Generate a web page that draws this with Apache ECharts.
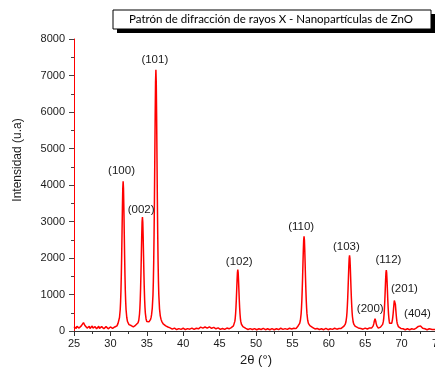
<!DOCTYPE html>
<html><head><meta charset="utf-8">
<script src="https://cdn.jsdelivr.net/npm/echarts@6/dist/echarts.min.js"></script>
<style>html,body{margin:0;padding:0;background:#fff}#c{width:435px;height:369px}</style>
</head><body><div id="c"></div>
<script>
const titleText = 'Patrón de difracción de rayos X - Nanopartículas de ZnO';
const xTitle = '2θ (°)';
const yTitle = 'Intensidad (u.a)';

// [2θ (°), intensidad (u.a)]
const scanBase25to31 = [[25.0,120],[25.1,80],[25.2,140],[25.3,70],[25.4,130],[25.5,90],[25.6,150],[25.7,80],[25.8,120],[25.9,100],[26.0,140],[26.1,110],[26.2,190],[26.3,230],[26.4,200],[26.5,150],[26.6,110],[26.7,140],[26.8,80],[26.9,120],[27.0,90],[27.1,130],[27.2,70],[27.3,110],[27.4,90],[27.5,140],[27.6,80],[27.7,110],[27.8,70],[27.9,120],[28.0,90],[28.1,60],[28.2,110],[28.3,80],[28.4,130],[28.5,70],[28.6,100],[28.7,80],[28.8,120],[28.9,70],[29.0,100],[29.1,60],[29.2,110],[29.3,80],[29.4,120],[29.5,70],[29.6,90],[29.7,60],[29.8,100],[29.9,80],[30.0,110],[30.1,60],[30.2,90],[30.3,70],[30.4,100],[30.5,80],[30.6,110],[30.7,100]];
const scanPeaks100_002_101 = [[30.8,115],[30.9,140],[30.95,165],[31.05,210],[31.15,260],[31.25,370],[31.35,590],[31.4,800],[31.45,1105],[31.5,1535],[31.55,2080],[31.6,2720],[31.65,3370],[31.7,3900],[31.75,4100],[31.8,3900],[31.85,3370],[31.9,2720],[31.95,2080],[32.0,1535],[32.05,1105],[32.1,800],[32.15,590],[32.25,370],[32.35,260],[32.45,210],[32.55,175],[32.65,165],[32.75,140],[32.85,150],[32.95,125],[33.05,135],[33.15,115],[33.25,140],[33.35,130],[33.45,155],[33.55,150],[33.6,165],[33.7,190],[33.8,225],[33.9,295],[34.0,465],[34.05,625],[34.1,855],[34.15,1180],[34.2,1595],[34.25,2080],[34.3,2575],[34.35,2975],[34.4,3120],[34.45,2980],[34.5,2580],[34.55,2090],[34.6,1605],[34.65,1195],[34.7,870],[34.75,645],[34.8,490],[34.9,330],[35.0,260],[35.1,240],[35.2,235],[35.3,250],[35.4,275],[35.5,310],[35.6,380],[35.65,440],[35.75,620],[35.85,990],[35.9,1360],[35.95,1900],[36.0,2650],[36.05,3610],[36.1,4740],[36.15,5880],[36.2,6805],[36.25,7160],[36.3,6805],[36.35,5880],[36.4,4740],[36.45,3610],[36.5,2650],[36.55,1900],[36.6,1360],[36.65,990],[36.75,600],[36.85,415],[36.95,325],[37.05,265],[37.15,230],[37.25,195],[37.35,175],[37.45,155],[37.6,140],[37.75,120],[37.9,110],[38.05,95],[38.2,85]];
const scanBase38to47 = [[38.3,60],[38.4,85],[38.5,50],[38.6,75],[38.7,40],[38.8,80],[38.9,45],[39.0,70],[39.1,40],[39.2,75],[39.3,45],[39.4,65],[39.5,35],[39.6,70],[39.7,45],[39.8,80],[39.9,40],[40.0,75],[40.1,45],[40.2,70],[40.3,40],[40.4,75],[40.5,45],[40.6,65],[40.7,40],[40.8,75],[40.9,50],[41.0,70],[41.1,40],[41.2,80],[41.3,50],[41.4,70],[41.5,45],[41.6,80],[41.7,55],[41.8,75],[41.9,60],[42.0,90],[42.1,60],[42.2,95],[42.3,70],[42.4,105],[42.5,75],[42.6,110],[42.7,80],[42.8,115],[42.9,80],[43.0,110],[43.1,85],[43.2,120],[43.3,80],[43.4,110],[43.5,85],[43.6,115],[43.7,80],[43.8,105],[43.9,75],[44.0,110],[44.1,70],[44.2,100],[44.3,75],[44.4,105],[44.5,60],[44.6,90],[44.7,55],[44.8,85],[44.9,50],[45.0,75],[45.1,45],[45.2,80],[45.3,45],[45.4,70],[45.5,50],[45.6,75],[45.7,45],[45.8,70],[45.9,55],[46.0,80],[46.1,55],[46.2,75],[46.3,60],[46.4,85],[46.5,70],[46.6,95]];
const scanPeak102 = [[46.7,107],[46.8,120],[46.9,140],[47.0,185],[47.1,270],[47.15,355],[47.2,480],[47.25,650],[47.3,870],[47.35,1130],[47.4,1390],[47.45,1600],[47.5,1680],[47.55,1600],[47.6,1390],[47.65,1130],[47.7,870],[47.75,650],[47.8,480],[47.85,355],[47.9,270],[48.0,185],[48.1,140],[48.2,120],[48.3,107],[48.45,90]];
const scanBase48to56 = [[48.6,70],[48.7,45],[48.8,65],[48.9,40],[49.0,75],[49.1,40],[49.2,65],[49.3,35],[49.4,70],[49.5,40],[49.6,60],[49.7,35],[49.8,65],[49.9,40],[50.0,60],[50.1,35],[50.2,70],[50.3,40],[50.4,60],[50.5,35],[50.6,65],[50.7,40],[50.8,60],[50.9,35],[51.0,70],[51.1,40],[51.2,60],[51.3,35],[51.4,65],[51.5,40],[51.6,60],[51.7,40],[51.8,70],[51.9,35],[52.0,60],[52.1,40],[52.2,65],[52.3,40],[52.4,60],[52.5,35],[52.6,70],[52.7,40],[52.8,60],[52.9,40],[53.0,65],[53.1,40],[53.2,60],[53.3,45],[53.4,75],[53.5,45],[53.6,65],[53.7,45],[53.8,70],[53.9,40],[54.0,65],[54.1,45],[54.2,75],[54.3,45],[54.4,65],[54.5,50],[54.6,75],[54.7,45],[54.8,70],[54.9,55],[55.0,80],[55.1,50],[55.2,75],[55.3,60],[55.4,85],[55.5,65],[55.6,90],[55.7,110]];
const scanPeak110 = [[55.8,145],[55.9,170],[56.0,210],[56.1,295],[56.2,475],[56.25,635],[56.3,850],[56.35,1130],[56.4,1465],[56.45,1840],[56.5,2205],[56.55,2490],[56.6,2595],[56.65,2490],[56.7,2205],[56.75,1840],[56.8,1465],[56.85,1130],[56.9,850],[56.95,635],[57.0,475],[57.1,295],[57.2,210],[57.3,170],[57.4,145],[57.6,115],[57.8,95]];
const scanBase58to62 = [[57.9,70],[58.0,90],[58.1,55],[58.2,75],[58.3,45],[58.4,70],[58.5,40],[58.6,65],[58.7,40],[58.8,70],[58.9,35],[59.0,60],[59.1,40],[59.2,65],[59.3,35],[59.4,60],[59.5,40],[59.6,70],[59.7,40],[59.8,60],[59.9,35],[60.0,65],[60.1,40],[60.2,60],[60.3,45],[60.4,70],[60.5,45],[60.6,65],[60.7,50],[60.8,75],[60.9,50],[61.0,70],[61.1,50],[61.2,75],[61.3,55],[61.4,70],[61.5,60],[61.6,85],[61.7,70],[61.8,95]];
const scanPeak103 = [[61.95,110],[62.05,125],[62.15,150],[62.25,180],[62.35,245],[62.45,390],[62.5,515],[62.55,690],[62.6,910],[62.65,1180],[62.7,1475],[62.75,1765],[62.8,1990],[62.85,2075],[62.9,1990],[62.95,1765],[63.0,1475],[63.05,1180],[63.1,910],[63.15,690],[63.2,515],[63.25,390],[63.35,245],[63.45,180],[63.55,150],[63.65,125],[63.85,100],[64.05,85]];
const scanBase64to66 = [[64.1,60],[64.2,80],[64.3,50],[64.4,70],[64.5,45],[64.6,75],[64.7,50],[64.8,70],[64.9,50],[65.0,80],[65.1,55],[65.2,75],[65.3,55],[65.4,80],[65.5,60],[65.6,85],[65.7,70],[65.8,95],[65.9,85]];
const scanPeaks200_112_201 = [[66.0,105],[66.1,140],[66.2,215],[66.25,270],[66.3,320],[66.35,340],[66.4,320],[66.45,270],[66.5,210],[66.6,140],[66.7,100],[66.8,80],[66.9,85],[67.0,95],[67.1,107],[67.2,120],[67.3,140],[67.4,182],[67.5,270],[67.55,355],[67.6,475],[67.65,650],[67.7,865],[67.75,1120],[67.8,1380],[67.85,1590],[67.9,1670],[67.95,1590],[68.0,1380],[68.05,1120],[68.1,865],[68.15,650],[68.2,475],[68.25,355],[68.3,270],[68.35,210],[68.4,170],[68.45,160],[68.5,165],[68.55,180],[68.6,190],[68.65,215],[68.7,260],[68.75,320],[68.8,400],[68.85,500],[68.9,620],[68.95,740],[69.0,835],[69.05,868],[69.1,830],[69.15,725],[69.2,594],[69.25,465],[69.3,355],[69.35,270],[69.4,208],[69.45,166],[69.55,121],[69.65,100],[69.75,85],[69.9,70]];
const scanBase70to75 = [[70.0,55],[70.1,35],[70.2,60],[70.3,35],[70.4,65],[70.5,35],[70.6,55],[70.7,30],[70.8,60],[70.9,35],[71.0,55],[71.1,35],[71.2,65],[71.3,40],[71.4,60],[71.5,40],[71.6,65],[71.7,45],[71.8,70],[71.9,60],[72.0,80],[72.1,85],[72.2,105],[72.3,125],[72.4,140],[72.5,155],[72.6,140],[72.7,120],[72.8,95],[72.9,75],[73.0,70],[73.1,45],[73.2,60],[73.3,35],[73.4,60],[73.5,35],[73.6,55],[73.7,35],[73.8,60],[73.9,35],[74.0,55],[74.2,40],[74.4,60],[74.6,40],[74.8,55],[75.0,45]];

// Miller-index annotations: text, 2θ and intensity of the label centre
const peakLabels = ['(100)','(002)','(101)','(102)','(110)','(103)','(200)','(112)','(201)','(404)'];
const peakLabelAngle = [31.53,34.22,36.1,47.7,56.2,62.41,65.69,68.19,70.39,72.18];
const peakLabelCounts = [4384,3307,7416,1890,2849,2301,603,1937,1142,458];

const scan = [].concat(scanBase25to31, scanPeaks100_002_101, scanBase38to47, scanPeak102,
  scanBase48to56, scanPeak110, scanBase58to62, scanPeak103, scanBase64to66,
  scanPeaks200_112_201, scanBase70to75);
const labelData = peakLabels.map((t, i) => ({ name: t, value: [peakLabelAngle[i], peakLabelCounts[i]] }));

const chart = echarts.init(document.getElementById('c'), null, { renderer: 'canvas' });
const tickFont = { color: '#1a1a1a', fontSize: 11, fontFamily: '"Liberation Sans", Arial, sans-serif' };
chart.setOption({
  animation: false,
  backgroundColor: '#fff',
  grid: { left: 74, right: -3, top: 39, bottom: 38, containLabel: false, outerBoundsMode: 'none' },
  xAxis: {
    type: 'value', min: 25, max: 75, interval: 5,
    axisLine: { show: true, onZero: false, lineStyle: { color: '#333', width: 1 } },
    axisTick: { show: true, length: 5, lineStyle: { color: '#333' } },
    minorTick: { show: true, splitNumber: 2, length: 3, lineStyle: { color: '#333' } },
    splitLine: { show: false },
    axisLabel: Object.assign({ margin: 7, showMaxLabel: true, hideOverlap: false, formatter: v => String(v) }, tickFont),
    name: xTitle, nameLocation: 'middle', nameGap: 23,
    nameTextStyle: { color: '#1a1a1a', fontSize: 13, fontFamily: '"Liberation Sans", Arial, sans-serif' }
  },
  yAxis: {
    type: 'value', min: 0, max: 8000, interval: 1000,
    axisLine: { show: true, onZero: false, lineStyle: { color: '#ff0000', width: 1 } },
    axisTick: { show: true, length: 5, lineStyle: { color: '#444' } },
    minorTick: { show: true, splitNumber: 2, length: 3, lineStyle: { color: '#444' } },
    splitLine: { show: false },
    axisLabel: Object.assign({ margin: 9, formatter: v => String(v) }, tickFont)
  },
  graphic: [
    { type: 'rect', shape: { x: 117, y: 14, width: 318, height: 19 }, style: { fill: '#000' }, z: 10 },
    { type: 'rect', shape: { x: 113, y: 10, width: 318, height: 19 }, style: { fill: '#fff', stroke: '#000', lineWidth: 1 }, z: 11 },
    { type: 'text', x: 271, y: 19.5, z: 12, style: { text: titleText, fill: '#000', font: '11.5px Lato, "Open Sans", sans-serif', align: 'center', verticalAlign: 'middle' } },
    { type: 'text', x: 18, y: 160, rotation: Math.PI / 2, z: 12, style: { text: yTitle, fill: '#1a1a1a', font: '12px "Liberation Sans", Arial, sans-serif', align: 'center', verticalAlign: 'middle' } }
  ],
  series: [
    { type: 'line', data: scan, showSymbol: false, symbol: 'none', lineStyle: { color: '#ff0000', width: 1.5 }, z: 3 },
    { type: 'scatter', data: labelData, symbolSize: 0, itemStyle: { color: '#1a1a1a' }, silent: true, z: 5,
      label: { show: true, position: 'inside', formatter: '{b}', color: '#1a1a1a', textBorderWidth: 0, opacity: 1, fontSize: 11.5, fontFamily: '"Liberation Sans", Arial, sans-serif' } }
  ]
});
</script></body></html>
